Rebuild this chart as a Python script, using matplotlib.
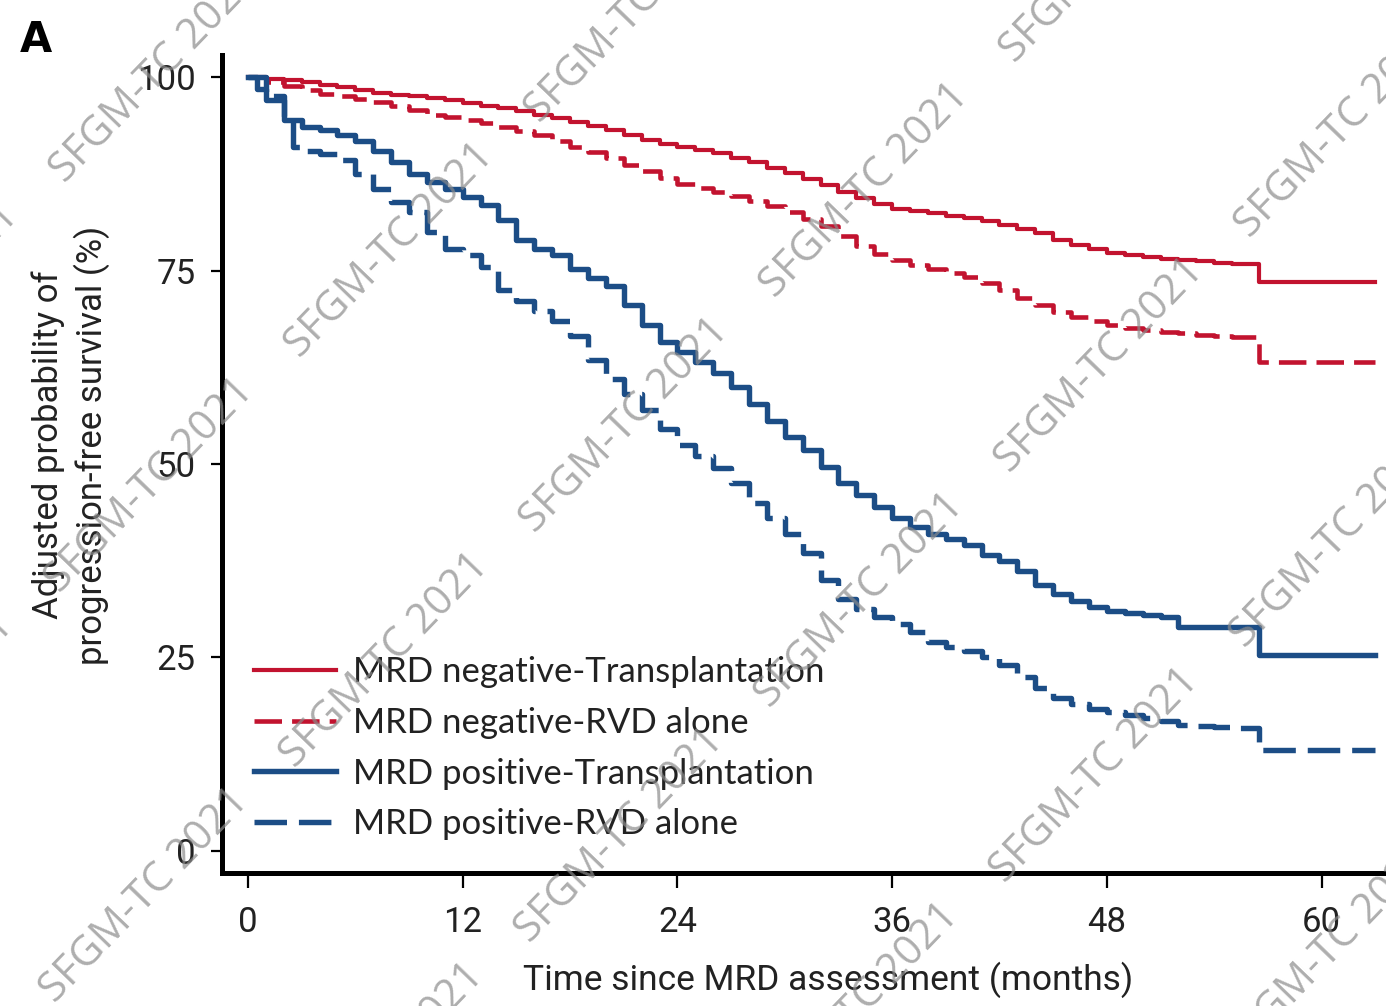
import numpy as np
import matplotlib.pyplot as plt

# months / adjusted PFS (%)
t_neg_tx = [0, 1, 2, 3, 4, 5, 6, 7, 8, 9, 10, 11, 12, 13, 14, 15, 16, 17, 18, 19, 20, 21, 22, 23, 24, 25, 26, 27, 28, 29,
            30, 31, 32, 33, 34, 35, 36, 37, 38, 39, 40, 41, 42, 43, 44, 45, 46, 47, 48, 49, 50, 51, 52, 53, 54, 55, 56.5, 63]
s_neg_tx = [100, 99.8, 99.6, 99.3, 99, 98.7, 98.3, 98, 97.7, 97.5, 97.3, 97, 96.6, 96.3, 96, 95.6, 95.1, 94.7, 94.2, 93.7,
            93.2, 92.5, 91.9, 91.4, 91, 90.6, 90.2, 89.6, 89, 88.3, 87.6, 86.8, 86, 85.2, 84.4, 83.6, 83, 82.7, 82.4, 82.1,
            81.8, 81.4, 80.9, 80.4, 79.8, 79, 78.3, 77.8, 77.3, 77, 76.7, 76.5, 76.4, 76.2, 76, 75.8, 73.5, 73.5]

t_neg_rvd = t_neg_tx
s_neg_rvd = [100, 99.3, 98.8, 98.3, 97.8, 97.5, 97.2, 96.8, 96.3, 95.7, 95.1, 94.8, 94.5, 94, 93.5, 93, 92.5, 91.8, 91, 90.3,
             89.5, 88.6, 87.8, 87, 86.2, 85.7, 85.2, 84.6, 84, 83.3, 82.5, 81.6, 80.7, 79.5, 78.2, 77.2, 76.3, 75.7, 75.2,
             74.7, 74.2, 73.4, 72.5, 71.5, 70.5, 69.7, 69, 68.5, 68, 67.6, 67.3, 67.1, 66.9, 66.7, 66.5, 66.4, 63.2, 63.2]

t_pos_tx = [0, 0.5, 1, 2, 3, 4, 5, 6, 7, 8, 9, 10, 11, 12, 13, 14, 15, 16, 17, 18, 19, 20, 21, 22, 23, 24, 25, 26, 27, 28,
            29, 30, 31, 32, 33, 34, 35, 36, 37, 38, 39, 40, 41, 42, 43, 44, 45, 46, 47, 48, 49, 50, 51, 52, 53, 54, 55,
            56.5, 63]
s_pos_tx = [100, 98.5, 97, 94.4, 93.5, 93.2, 92.5, 91.8, 90.5, 89, 87.5, 86.5, 85.5, 84.5, 83.5, 81.5, 79, 77.8, 77, 75.2,
            74, 73, 70.5, 68, 65.8, 64.5, 63.2, 61.7, 60, 57.8, 55.6, 53.5, 51.8, 49.6, 47.5, 46, 44.5, 43, 41.8, 41, 40.3,
            39.5, 38.2, 37.5, 36.2, 34.4, 33.2, 32.3, 31.5, 31, 30.8, 30.5, 30.2, 29, 29, 29, 29, 25.3, 25.3]

t_pos_rvd = [0, 1, 2, 2.5, 3, 4, 5, 6, 7, 8, 9, 10, 11, 12, 13, 14, 15, 16, 17, 18, 19, 20, 21, 22, 23, 24, 25, 26, 27, 28,
             29, 30, 31, 32, 33, 34, 35, 36, 37, 38, 39, 40, 41, 42, 43, 44, 45, 46, 47, 48, 49, 50, 51, 52, 53, 54, 55,
             56.5, 63]
s_pos_rvd = [100, 97.5, 95, 91, 90.5, 90, 89.3, 87.5, 85.5, 83.8, 82.5, 80, 77.8, 77, 75.5, 72.5, 71, 69.8, 68.5, 66.5,
             63.5, 61, 59, 57, 54.5, 52.5, 51, 49.5, 47.5, 45, 43, 41, 38.5, 35, 32.5, 31.2, 30.2, 29.3, 28.3, 27, 26.3,
             25.8, 25, 24, 22.5, 21, 19.8, 19, 18.3, 18, 17.6, 17.2, 16.8, 16.3, 16.1, 16, 15.9, 13.1, 13.1]

labels = ["MRD negative-Transplantation", "MRD negative-RVD alone",
          "MRD positive-Transplantation", "MRD positive-RVD alone"]
x_ticks = [0, 12, 24, 36, 48, 60]
y_ticks = [0, 25, 50, 75, 100]

RED = "#C2132F"
BLUE = "#1C4D86"
NARROW = ["Roboto", "DejaVu Sans"]


def main():
    W, H = 1386, 1006
    fig = plt.figure(figsize=(W / 100, H / 100), dpi=100)
    ax = fig.add_axes([222 / W, 133 / H, (W - 222) / W, (873 - 55) / H])

    dash = (6, 2.2)
    ax.plot(t_neg_tx, s_neg_tx, drawstyle="steps-post", color=RED, lw=3.0, label=labels[0])
    ax.plot(t_neg_rvd, s_neg_rvd, drawstyle="steps-post", color=RED, lw=3.3, dashes=dash, label=labels[1])
    ax.plot(t_pos_tx, s_pos_tx, drawstyle="steps-post", color=BLUE, lw=3.9, label=labels[2])
    ax.plot(t_pos_rvd, s_pos_rvd, drawstyle="steps-post", color=BLUE, lw=3.9, dashes=dash, label=labels[3])

    ax.set_xlim(-1.45, 63.6)
    ax.set_ylim(-2.85, 102.85)
    ax.set_xticks(x_ticks)
    ax.set_yticks(y_ticks)
    for s in ["top", "right"]:
        ax.spines[s].set_visible(False)
    for s in ["left", "bottom"]:
        ax.spines[s].set_linewidth(3.6)
    ax.tick_params(axis="y", length=8, width=1.6, pad=11)
    ax.tick_params(axis="x", length=11, width=1.6, pad=13)
    for lab in ax.get_xticklabels() + ax.get_yticklabels():
        lab.set_family(NARROW)
        lab.set_fontsize(25)
        lab.set_color("#222222")

    leg = ax.legend(loc="upper left", bbox_to_anchor=(254 / W, 1 - 656 / H),
                    bbox_transform=fig.transFigure, frameon=False,
                    prop={"family": ["Lato", "DejaVu Sans"], "size": 25},
                    handlelength=2.35, handletextpad=0.5, labelspacing=0.54,
                    borderpad=0, borderaxespad=0)
    for txt in leg.get_texts():
        txt.set_color("#222222")

    fig.text(71 / W, 1 - 445 / H, "Adjusted probability of\nprogression-free survival (%)",
             rotation=90, ha="center", va="center", multialignment="center",
             family=NARROW, fontsize=25, color="#222222", linespacing=1.3)
    fig.text(828 / W, 1 - 980 / H, "Time since MRD assessment (months)",
             ha="center", va="center", family=NARROW, fontsize=25.5, color="#222222")
    fig.text(20 / W, 1 - 40 / H, "A", ha="left", va="center", fontsize=30,
             fontweight="bold", color="black")

    # diagonal watermark lattice
    ox, oy = 390, 250
    a = np.array([235, 175])
    c = np.array([-5, 410])
    for i in range(-3, 6):
        for j in range(-3, 4):
            px, py = np.array([ox, oy]) + i * a + j * c
            if -120 < px < W + 120 and -120 < py < H + 120:
                fig.text(px / W, 1 - py / H, "SFGM-TC 2021", rotation=46,
                         ha="center", va="center", fontsize=30,
                         family=["Open Sans", "DejaVu Sans"],
                         color="#8c8c8c", alpha=0.7, zorder=10)

    fig.savefig("out.png", dpi=100)


if __name__ == "__main__":
    main()
